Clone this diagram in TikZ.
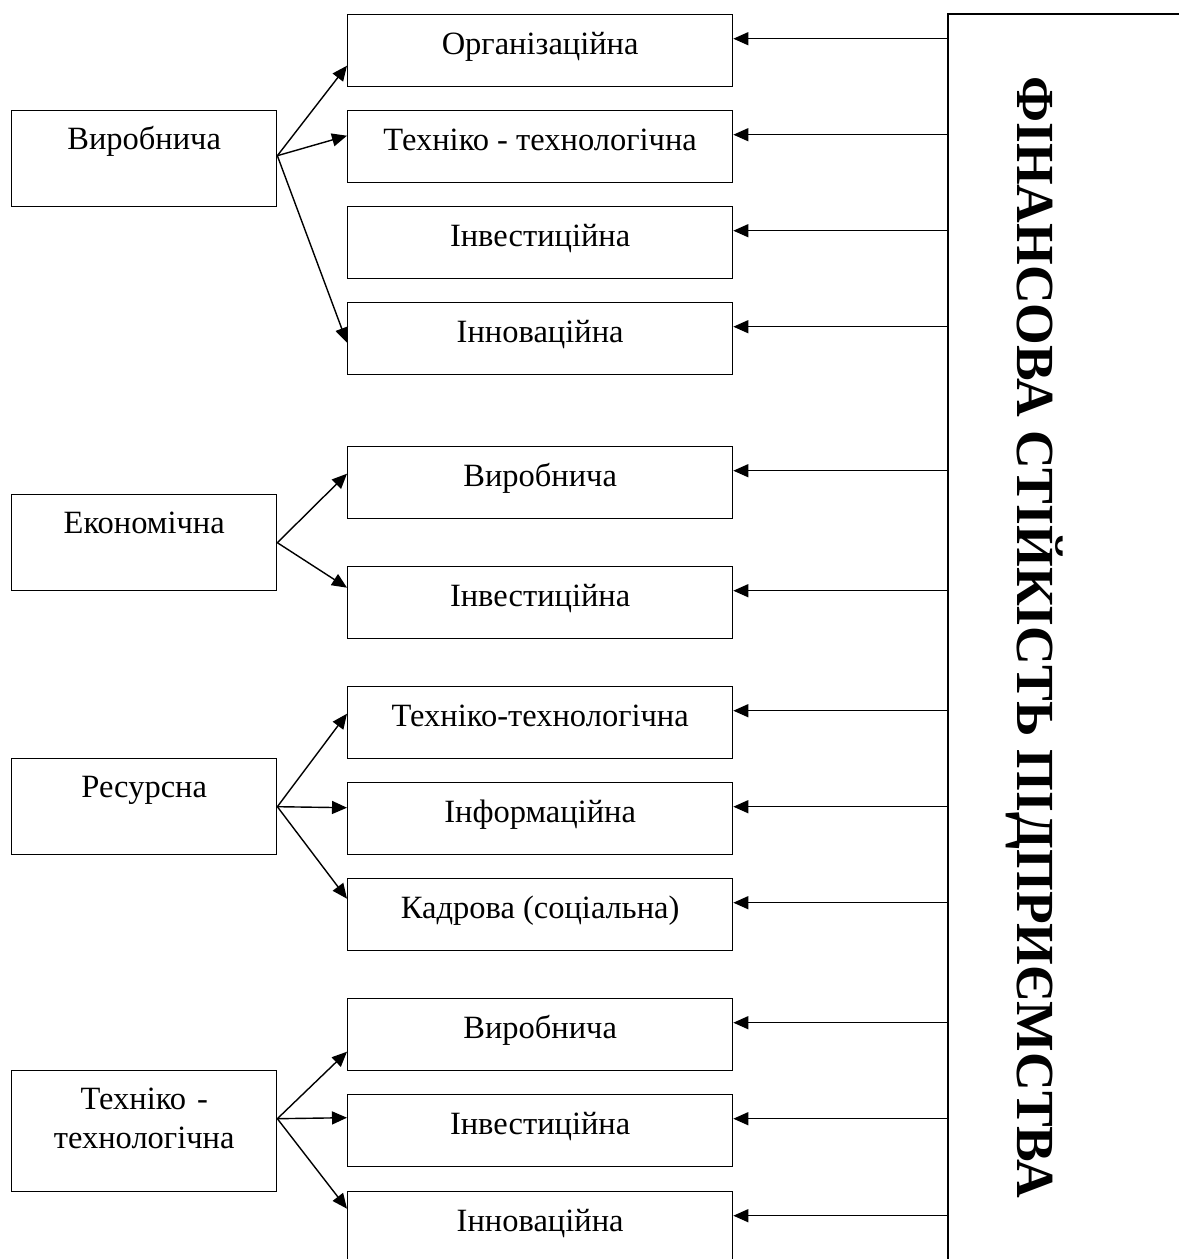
\documentclass[tikz,border=0pt]{standalone}
\usepackage{fontspec}
\setmainfont{Liberation Serif}
\usetikzlibrary{arrows.meta}

\begin{document}
\begin{tikzpicture}[x=0.02cm,y=-0.02cm,line width=0.8pt,
    txt/.style={font=\fontsize{18.5}{22.2}\selectfont},
    rbox/.style={txt,draw,anchor=north west,inner sep=0pt,minimum width=7.7cm,
      text height=0.8cm,text depth=0.64cm},
    lbox/.style={txt,draw,anchor=north west,inner sep=0pt,minimum width=5.3cm,
      text height=0.78cm,text depth=1.14cm},
    arr/.style={-{Triangle[length=0.3cm,width=0.26cm]}}]
  \useasboundingbox (0,0) rectangle (1179,1259);
  % left column
  \node[lbox] (vyr) at (11,110) {Виробнича};
  \node[lbox] (ekon) at (11,494) {Економічна};
  \node[lbox] (res) at (11,758) {Ресурсна};
  \node[lbox,text width=5.3cm,align=center,text depth=1.64cm] (teh) at (11,1070)
    {Техніко -\\технологічна};
  % middle column
  \node[rbox] (org) at (347,14) {Організаційна};
  \node[rbox] (teh1) at (347,110) {Техніко - технологічна};
  \node[rbox] (inv1) at (347,206) {Інвестиційна};
  \node[rbox] (inn1) at (347,302) {Інноваційна};
  \node[rbox] (vyr2) at (347,446) {Виробнича};
  \node[rbox] (inv2) at (347,566) {Інвестиційна};
  \node[rbox] (teh3) at (347,686) {Техніко-технологічна};
  \node[rbox] (inf3) at (347,782) {Інформаційна};
  \node[rbox] (kad3) at (347,878) {Кадрова (соціальна)};
  \node[rbox] (vyr4) at (347,998) {Виробнича};
  \node[rbox] (inv4) at (347,1094) {Інвестиційна};
  \node[rbox] (inn4) at (347,1191) {Інноваційна};
  % right block
  \node[rotate=-90,anchor=south west,inner sep=0pt,minimum width=24.9cm,
    text height=3.24cm,text depth=1.38cm,font=\fontsize{30.5}{36}\selectfont\bfseries]
    (fin) at (948,14) {ФІНАНСОВА СТІЙКІСТЬ ПІДПРИЄМСТВА};
  \draw (fin.north west) -- (fin.south west) -- (fin.south east);
  \foreach \b in {org,teh1,inv1,inn1,vyr2,inv2,teh3,inf3,kad3,vyr4,inv4,inn4}{
    \coordinate (\b-r) at ([yshift=0.24cm]\b.east);
    \draw[arr] (fin.south west |- \b-r) -- (\b-r);
  }
  % fans
  \draw[arr] ([yshift=0.06cm]vyr.east) -- ([yshift=-0.3cm]org.west);
  \draw[arr] ([yshift=0.06cm]vyr.east) -- ([yshift=0.22cm]teh1.west);
  \draw[arr] ([yshift=0.06cm]vyr.east) -- ([yshift=-0.08cm]inn1.west);
  \draw[arr] (ekon.east) -- ([yshift=0.18cm]vyr2.west);
  \draw[arr] (ekon.east) -- ([yshift=0.3cm]inv2.west);
  \draw[arr] (res.east) -- ([yshift=0.18cm]teh3.west);
  \draw[arr] (res.east) -- ([yshift=0.22cm]inf3.west);
  \draw[arr] (res.east) -- ([yshift=0.32cm]kad3.west);
  \draw[arr] ([yshift=0.25cm]teh.east) -- ([yshift=-0.34cm]vyr4.west);
  \draw[arr] ([yshift=0.25cm]teh.east) -- ([yshift=0.26cm]inv4.west);
  \draw[arr] ([yshift=0.25cm]teh.east) -- ([yshift=0.38cm]inn4.west);
\end{tikzpicture}
\end{document}
